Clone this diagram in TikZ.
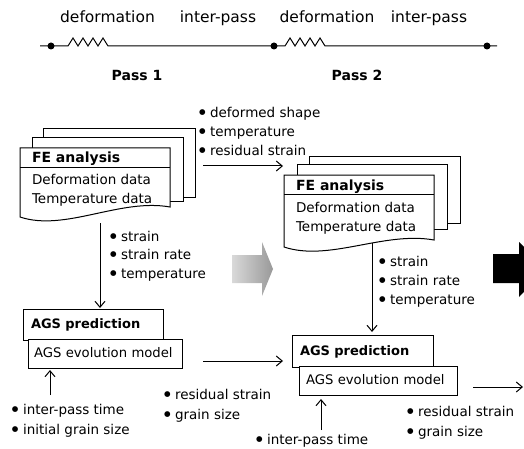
\documentclass[tikz,border=0pt]{standalone}
\usepackage{fontspec}
\setmainfont{DejaVu Sans}
\usetikzlibrary{arrows.meta}
\newcommand{\bul}{\raisebox{2.6pt}{\fontsize{7.5}{8}\selectfont ●}\hspace{4.5pt}}
\begin{document}
\begin{tikzpicture}[x=1pt,y=-1pt,
  every node/.style={inner sep=0pt, outer sep=0pt},
  toplbl/.style={font=\fontsize{15.5}{18}\selectfont, anchor=base},
  passlbl/.style={font=\fontsize{14}{17}\selectfont\bfseries, anchor=base},
  txt/.style={font=\fontsize{13.5}{17}\selectfont, anchor=west, text height=9pt, text depth=0pt},
  fetitle/.style={font=\fontsize{14}{17}\selectfont\bfseries, anchor=west, text height=10pt, text depth=0pt},
  page/.style={draw, line width=1pt, fill=white},
  agsbox/.style={draw, line width=1pt, fill=white, anchor=north west, align=left,
     inner xsep=8pt, text height=8pt, text depth=0pt},
  arr/.style={line width=1pt, -{Straight Barb[length=6pt,width=10pt]}},
  pdot/.style={circle, fill=black, minimum size=7pt},
  line/.style={line width=1pt},
]
\useasboundingbox (0,0) rectangle (524,449);

% ---------- top timeline ----------
\node[toplbl] (lbl1) at (107.5,22.5) {deformation};
\node[toplbl] (lbl2) at (218,22.5) {inter-pass};
\node[toplbl] (lbl3) at (327,22.5) {deformation};
\node[toplbl] (lbl4) at (429,22.5) {inter-pass};
\node[passlbl] (pass1) at (137,81) {Pass 1};
\node[passlbl] (pass2) at (357,81) {Pass 2};

\coordinate (tl0) at (40,46);
\coordinate (tl1) at (497,46);
\node[pdot] (d1) at (51,46) {};
\node[pdot] (d2) at (274,46) {};
\node[pdot] (d3) at (487,46) {};
\draw[line] (tl0) -- (68,46) -- (73,38) -- (78,46) -- (83,38) -- (88,46) -- (93,38) -- (98,46) -- (103,38) -- (108,46)
   -- (285,46) -- (290,38) -- (295,46) -- (300,38) -- (305,46) -- (310,38) -- (315,46) -- (320,38) -- (325,46) -- (tl1);

% ---------- left FE stack ----------
\draw[page] (43,129) rectangle (195,197);
\draw[page] (32,138) rectangle (183,201);
\draw[page] (20,148) -- (170,148) -- (170,207) .. controls (120,198) and (65,232) .. (20,217) -- cycle;
\draw[line] (20,168) -- (170,168);
\node[fetitle] (fe1t) at (32,158) {FE analysis};
\node[txt] (fe1a) at (32,180) {Deformation data};
\node[txt] (fe1b) at (32,199) {Temperature data};

% ---------- right FE stack ----------
\draw[page] (309,157) rectangle (460,223);
\draw[page] (297,165) rectangle (447,229);
\draw[page] (284,175) -- (434,175) -- (434,240) .. controls (384,231) and (329,262) .. (284,247) -- cycle;
\draw[line] (284,194) -- (434,194);
\node[fetitle] (fe2t) at (296,185) {FE analysis};
\node[txt] (fe2a) at (296,208) {Deformation data};
\node[txt] (fe2b) at (296,227) {Temperature data};

% ---------- AGS boxes ----------
\node[agsbox, font=\fontsize{13}{16}\selectfont\bfseries, text width=124pt, minimum height=31pt] (ags1) at (23,309) {AGS prediction};
\node[agsbox, font=\fontsize{13.2}{16}\selectfont, text width=142pt, minimum height=29pt, inner xsep=6pt] (evo1) at (28,339) {AGS evolution model};
\node[agsbox, font=\fontsize{13}{16}\selectfont\bfseries, text width=125pt, minimum height=32pt] (ags2) at (292,335) {AGS prediction};
\node[agsbox, font=\fontsize{13.2}{16}\selectfont, text width=144pt, minimum height=29pt, inner xsep=7pt] (evo2) at (299,366) {AGS evolution model};

% ---------- bullet lists ----------
\node[txt] (b1a) at (199,113) {\bul deformed shape};
\node[txt] (b1b) at (199,132) {\bul temperature};
\node[txt] (b1c) at (199,151) {\bul residual strain};

\node[txt] (b2a) at (110,236.5) {\bul strain};
\node[txt] (b2b) at (110,255) {\bul strain rate};
\node[txt] (b2c) at (110,273.5) {\bul temperature};

\node[txt] (b3a) at (12,410) {\bul inter-pass time};
\node[txt] (b3b) at (12,430) {\bul initial grain size};

\node[txt] (b4a) at (164,395) {\bul residual strain};
\node[txt] (b4b) at (164,415) {\bul grain size};

\node[txt] (b5a) at (379,262) {\bul strain};
\node[txt] (b5b) at (379,281) {\bul strain rate};
\node[txt] (b5c) at (379,300) {\bul temperature};

\node[txt] (b6a) at (407,412) {\bul residual strain};
\node[txt] (b6b) at (407,432) {\bul grain size};

\node[txt] (b7a) at (256,440) {\bul inter-pass time};

% ---------- connectors ----------
\coordinate (c1s) at (203,166);  \coordinate (c1e) at (283,166);
\coordinate (c2s) at (100,223);  \coordinate (c2e) at (100,308);
\coordinate (c3s) at (50,395);   \coordinate (c3e) at (50,370);
\coordinate (c4s) at (203,361);  \coordinate (c4e) at (283,361);
\coordinate (c5s) at (372,243);  \coordinate (c5e) at (372,332);
\coordinate (c6s) at (321,430);  \coordinate (c6e) at (321,399);
\coordinate (c7s) at (473,387);  \coordinate (c7e) at (523,387);
\draw[arr] (c1s) -- (c1e);
\draw[arr] (c2s) -- (c2e);
\draw[arr] (c3s) -- (c3e);
\draw[arr] (c4s) -- (c4e);
\draw[arr] (c5s) -- (c5e);
\draw[arr] (c6s) -- (c6e);
\draw[arr] (c7s) -- (c7e);

% ---------- block arrows ----------
\shade[left color=gray!30, right color=gray!80] (232,255) -- (262,255) -- (262,242) -- (273,269) -- (262,296) -- (262,283) -- (232,283) -- cycle;
\fill[black] (493,254) -- (519,254) -- (519,242) -- (546,269) -- (519,297) -- (519,283) -- (493,283) -- cycle;
\end{tikzpicture}
\end{document}
